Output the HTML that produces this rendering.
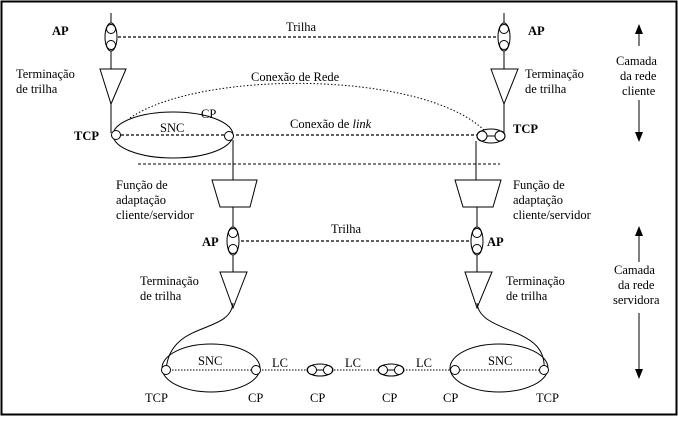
<!DOCTYPE html>
<html><head><meta charset="utf-8"><style>
html,body{margin:0;padding:0;background:#fff;}
svg text{font-family:"Liberation Serif","DejaVu Serif",serif;font-size:12.5px;fill:#000;}
</style></head><body>
<svg width="678" height="418" viewBox="0 0 678 418" xmlns="http://www.w3.org/2000/svg">
<rect x="1.5" y="1.5" width="675" height="413" fill="#fff" stroke="#000" stroke-width="2"/>
<g fill="none" stroke="#000" stroke-width="1">
<line x1="111" y1="13" x2="111" y2="23"/>
<ellipse cx="111" cy="37" rx="6" ry="14" fill="#fff"/>
<circle cx="111" cy="29" r="4.5"/><circle cx="111" cy="45" r="4.5"/>
<line x1="111" y1="51" x2="111" y2="69"/>
<polygon points="100,69 126,69 111,104"/>
<line x1="111" y1="104" x2="111" y2="133"/>
<line x1="504" y1="13" x2="504" y2="23"/>
<ellipse cx="504" cy="37" rx="6" ry="14" fill="#fff"/>
<circle cx="504" cy="29" r="4.5"/><circle cx="504" cy="45" r="4.5"/>
<line x1="504" y1="51" x2="504" y2="69"/>
<polygon points="491,69 518,69 504,104"/>
<line x1="504" y1="104" x2="504" y2="136"/>
<line x1="118" y1="37" x2="498" y2="37" stroke-dasharray="3,2" stroke-width="1.3"/>
<ellipse cx="173" cy="135" rx="60" ry="23"/>
<line x1="116" y1="135" x2="477" y2="135" stroke-dasharray="3,2" stroke-width="1.3"/>
<circle cx="116" cy="135" r="4.5" fill="#fff"/>
<circle cx="229" cy="136" r="4.5" fill="#fff"/>
<ellipse cx="491" cy="136" rx="14" ry="7" fill="#fff"/>
<circle cx="482" cy="136" r="5"/><circle cx="500" cy="136" r="5"/>
<line x1="487" y1="136" x2="495" y2="136"/>
<path d="M130,118 C200,70 420,70 484,130" stroke-dasharray="1.5,2"/>
<line x1="138" y1="164" x2="500" y2="164" stroke-dasharray="3,2"/>
<line x1="233" y1="140" x2="233" y2="180"/>
<polygon points="212,180 257,180 250,207 220,207"/>
<line x1="233" y1="207" x2="233" y2="228"/>
<line x1="476" y1="141" x2="476" y2="180"/>
<polygon points="455,180 501,180 493,207 463,207"/>
<line x1="477" y1="207" x2="477" y2="228"/>
<ellipse cx="233" cy="241" rx="6" ry="14" fill="#fff"/>
<circle cx="233" cy="233" r="4.5"/><circle cx="233" cy="249" r="4.5"/>
<ellipse cx="477" cy="241" rx="6" ry="14" fill="#fff"/>
<circle cx="477" cy="233" r="4.5"/><circle cx="477" cy="249" r="4.5"/>
<line x1="241" y1="241" x2="470" y2="241" stroke-dasharray="3,2" stroke-width="1.3"/>
<line x1="233" y1="255" x2="233" y2="272"/>
<polygon points="220,272 247,272 233,308"/>
<line x1="477" y1="255" x2="477" y2="272"/>
<polygon points="465,272 492,272 477,308"/>
<path d="M233,303 C230,335 170,320 166,370"/>
<path d="M477,303 C480,335 548,325 544,370"/>
<ellipse cx="211" cy="368" rx="49" ry="24"/>
<ellipse cx="499" cy="368" rx="49" ry="24"/>
<line x1="166" y1="370" x2="544" y2="370" stroke-dasharray="1.5,1.5"/>
<circle cx="166" cy="370" r="4.5" fill="#fff"/>
<circle cx="256" cy="370" r="4.5" fill="#fff"/>
<circle cx="455" cy="370" r="4.5" fill="#fff"/>
<circle cx="544" cy="370" r="4.5" fill="#fff"/>
<ellipse cx="320" cy="370" rx="13" ry="6" fill="#fff"/>
<circle cx="312" cy="370" r="4.5"/><circle cx="328" cy="370" r="4.5"/>
<line x1="316" y1="370" x2="324" y2="370"/>
<ellipse cx="391" cy="370" rx="13" ry="6" fill="#fff"/>
<circle cx="383" cy="370" r="4.5"/><circle cx="399" cy="370" r="4.5"/>
<line x1="387" y1="370" x2="395" y2="370"/>
<line x1="639" y1="32" x2="639" y2="46"/>
<line x1="639" y1="100" x2="639" y2="135"/>
<line x1="639" y1="232" x2="639" y2="262"/>
<line x1="639" y1="313" x2="639" y2="373"/>
</g>
<g fill="#000">
<polygon points="639,24 635,34 643,34"/>
<polygon points="639,142 635,132 643,132"/>
<polygon points="639,226 635,236 643,236"/>
<polygon points="639,379 635,369 643,369"/>
</g>
<g font-family="Liberation Serif, DejaVu Serif, serif" font-size="12.5">
<text x="52" y="35" font-weight="bold">AP</text>
<text x="528" y="35" font-weight="bold">AP</text>
<text x="286" y="31">Trilha</text>
<text x="16" y="78">Terminação</text>
<text x="16" y="93">de trilha</text>
<text x="525" y="78">Terminação</text>
<text x="525" y="93">de trilha</text>
<text x="251" y="81">Conexão de Rede</text>
<text x="201" y="118">CP</text>
<text x="160" y="132">SNC</text>
<text x="74" y="140" font-weight="bold">TCP</text>
<text x="513" y="133" font-weight="bold">TCP</text>
<text x="290" y="128">Conexão de <tspan font-style="italic">link</tspan></text>
<text x="616" y="65">Camada</text>
<text x="620" y="80">da rede</text>
<text x="622" y="95">cliente</text>
<text x="116" y="189">Função de</text>
<text x="116" y="204">adaptação</text>
<text x="116" y="219">cliente/servidor</text>
<text x="513" y="189">Função de</text>
<text x="513" y="204">adaptação</text>
<text x="513" y="219">cliente/servidor</text>
<text x="331" y="233">Trilha</text>
<text x="202" y="246" font-weight="bold">AP</text>
<text x="487" y="246" font-weight="bold">AP</text>
<text x="140" y="285">Terminação</text>
<text x="140" y="300">de trilha</text>
<text x="506" y="285">Terminação</text>
<text x="506" y="300">de trilha</text>
<text x="614" y="274">Camada</text>
<text x="618" y="289">da rede</text>
<text x="613" y="304">servidora</text>
<text x="198" y="365">SNC</text>
<text x="488" y="365">SNC</text>
<text x="272" y="367">LC</text>
<text x="345" y="367">LC</text>
<text x="416" y="367">LC</text>
<text x="145" y="402">TCP</text>
<text x="248" y="402">CP</text>
<text x="310" y="402">CP</text>
<text x="382" y="402">CP</text>
<text x="443" y="402">CP</text>
<text x="536" y="402">TCP</text>
</g>
</svg>
</body></html>
